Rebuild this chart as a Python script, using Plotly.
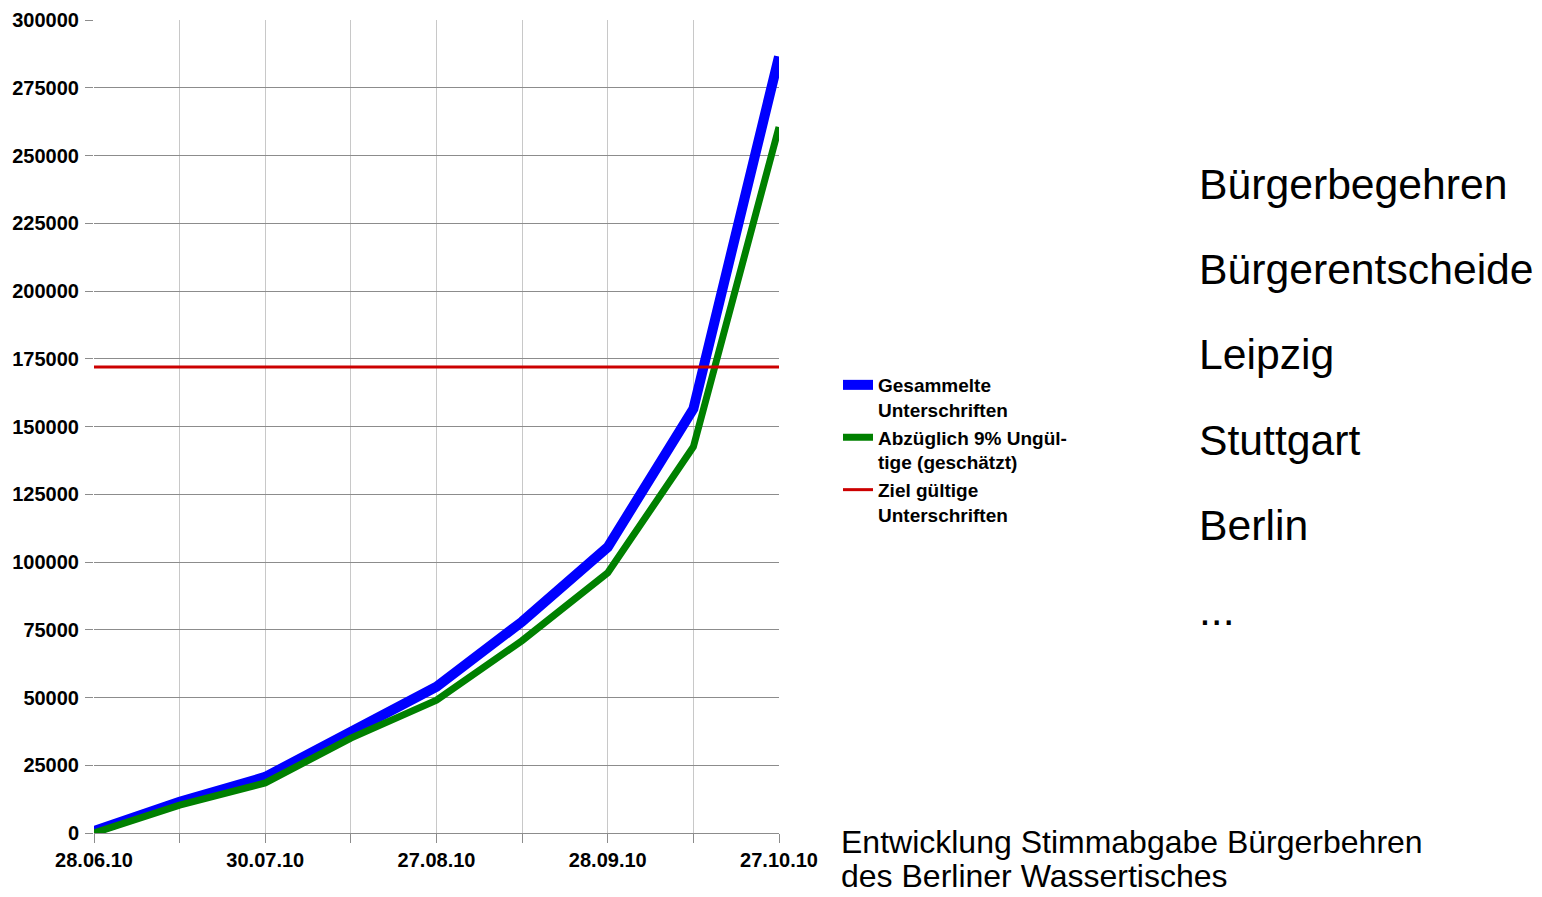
import plotly.graph_objects as go

dates = ["28.06.10", "", "30.07.10", "", "27.08.10", "", "28.09.10", "", "27.10.10"]
x_idx = list(range(len(dates)))
gesammelt = [700, 11500, 20700, 37800, 54000, 78000, 105500, 156500, 286500]
abzueglich = [0, 10300, 18500, 35000, 49000, 71000, 96000, 142500, 260500]
ziel = [172000] * len(dates)
y_ticks = list(range(0, 300001, 25000))

side_items = ["Bürgerbegehren", "Bürgerentscheide", "Leipzig", "Stuttgart", "Berlin", "..."]
caption = ["Entwicklung Stimmabgabe Bürgerbehren", "des Berliner Wassertisches"]

FONT = "Liberation Sans, Arial, sans-serif"

W, H = 1542, 897

fig = go.Figure()
fig.add_trace(go.Scatter(x=x_idx, y=gesammelt, mode="lines", name="<b>Gesammelte<br>Unterschriften</b>",
                         line=dict(color="#0000ff", width=10), cliponaxis=False))
fig.add_trace(go.Scatter(x=x_idx, y=abzueglich, mode="lines", name="<b>Abzüglich 9% Ungül-<br>tige (geschätzt)</b>",
                         line=dict(color="#008000", width=7), cliponaxis=False))
fig.add_trace(go.Scatter(x=x_idx, y=ziel, mode="lines", name="<b>Ziel gültige<br>Unterschriften</b>",
                         line=dict(color="#cc0000", width=3), cliponaxis=False))

L, R, T, B = 94, 779, 20, 833
pw, ph = R - L, B - T

def px_x(p):
    return (p - L) / pw

def px_y(p):
    return (B - p) / ph

annotations = []
side_y = [184, 269, 354, 440, 525, 610]
for txt, yy in zip(side_items, side_y):
    annotations.append(dict(text=txt, x=px_x(1197), y=px_y(yy), xref="paper", yref="paper",
                            xanchor="left", yanchor="middle", showarrow=False,
                            font=dict(family=FONT, size=42.7, color="#000")))
for txt, yy in zip(caption, [842, 876]):
    annotations.append(dict(text=txt, x=px_x(839), y=px_y(yy), xref="paper", yref="paper",
                            xanchor="left", yanchor="middle", showarrow=False,
                            font=dict(family=FONT, size=32, color="#000")))

fig.update_layout(
    width=W, height=H,
    margin=dict(l=L, r=W - R, t=T, b=H - B, pad=0, autoexpand=False),
    paper_bgcolor="white", plot_bgcolor="white",
    font=dict(family=FONT, color="#000"),
    showlegend=True,
    legend=dict(x=px_x(838), y=px_y(366), xanchor="left", yanchor="top",
                font=dict(family=FONT, size=19, color="#000"),
                valign="top", tracegroupgap=0, bgcolor="rgba(0,0,0,0)"),
    annotations=annotations,
    xaxis=dict(range=[0, 8], tickvals=x_idx, ticktext=[f"<b>{d}</b>" for d in dates],
               automargin=False,
               showgrid=True, gridcolor="#c8c8c8", gridwidth=1, zeroline=False,
               showline=True, linecolor="#8c8c8c", linewidth=1,
               ticks="outside", ticklen=9, tickcolor="#8c8c8c",
               tickfont=dict(family=FONT, size=20, color="#000")),
    yaxis=dict(range=[0, 300000], tickvals=y_ticks, ticktext=[f"<b>{v}</b>" for v in y_ticks],
               automargin=False, ticklabelstandoff=2,
               showgrid=True, gridcolor="#8c8c8c", gridwidth=1, zeroline=False,
               showline=False, ticks="outside", ticklen=8, tickcolor="#8c8c8c",
               tickfont=dict(family=FONT, size=20, color="#000")),
)

fig.write_html("out.html", config={"displayModeBar": False},
               post_script="document.body.style.margin='0';document.body.style.overflow='hidden';")
